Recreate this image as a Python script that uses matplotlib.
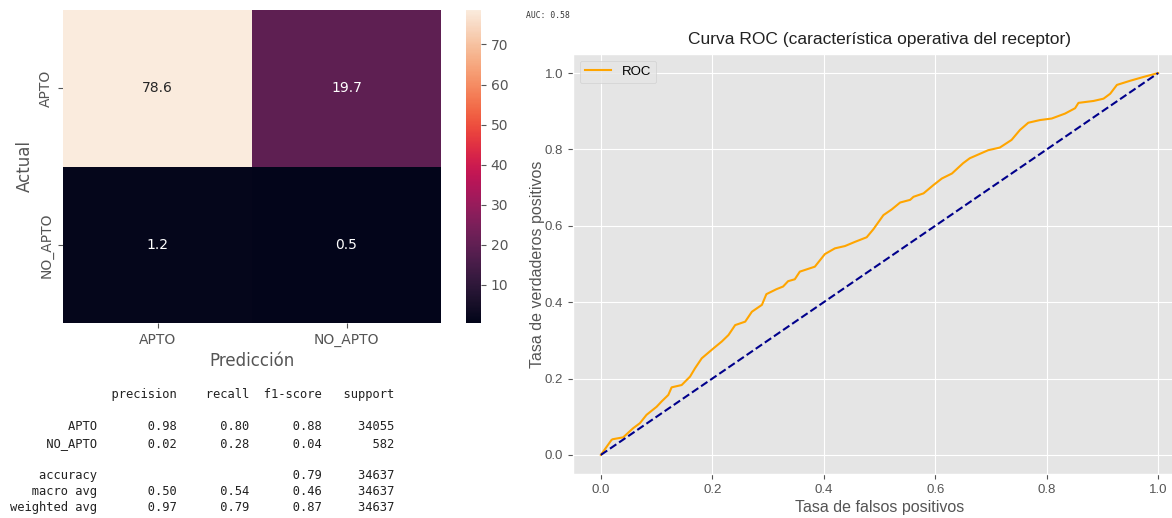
import numpy as np
import matplotlib
matplotlib.use('Agg')
import matplotlib.pyplot as plt
import seaborn as sns

# datos
clases = ['APTO', 'NO_APTO']
matriz = np.array([[78.6, 19.7],
                   [1.2, 0.5]])

precision = [0.98, 0.02]
recall = [0.80, 0.28]
f1 = [0.88, 0.04]
support = [34055, 582]
accuracy = 0.79
macro = [0.50, 0.54, 0.46]
weighted = [0.97, 0.79, 0.87]
total = 34637
auc = 0.58

fpr = [0.0, 0.019, 0.021, 0.040, 0.058, 0.070, 0.082, 0.100, 0.109, 0.121,
       0.127, 0.145, 0.160, 0.169, 0.181, 0.202, 0.217, 0.229, 0.241, 0.259,
       0.271, 0.289, 0.297, 0.315, 0.327, 0.336, 0.348, 0.357, 0.384, 0.402,
       0.420, 0.438, 0.456, 0.477, 0.489, 0.507, 0.522, 0.537, 0.555, 0.561,
       0.579, 0.597, 0.612, 0.630, 0.650, 0.662, 0.695, 0.716, 0.737, 0.752,
       0.767, 0.788, 0.809, 0.833, 0.851, 0.857, 0.884, 0.902, 0.914, 0.926,
       0.950, 0.974, 0.997, 1.0]
tpr = [0.0, 0.039, 0.041, 0.046, 0.070, 0.083, 0.105, 0.126, 0.140, 0.157,
       0.177, 0.183, 0.205, 0.227, 0.253, 0.279, 0.297, 0.314, 0.340, 0.349,
       0.375, 0.393, 0.421, 0.434, 0.441, 0.455, 0.460, 0.480, 0.493, 0.526,
       0.541, 0.547, 0.558, 0.570, 0.591, 0.628, 0.643, 0.661, 0.668, 0.676,
       0.685, 0.707, 0.724, 0.737, 0.764, 0.777, 0.798, 0.805, 0.825, 0.851,
       0.870, 0.877, 0.881, 0.894, 0.908, 0.922, 0.927, 0.933, 0.946, 0.969,
       0.980, 0.990, 0.999, 1.0]

plt.style.use('ggplot')
fuente_roc = 'Liberation Sans'

fig = plt.figure(figsize=(11.72, 5.18), dpi=100)

# matriz de confusion
ax1 = fig.add_axes([63/1172, 1 - 323/518, 378/1172, 313/518])
cax = fig.add_axes([466/1172, 1 - 323/518, 15/1172, 313/518])
sns.heatmap(matriz, annot=True, fmt='.1f', xticklabels=clases, yticklabels=clases,
            ax=ax1, cbar_ax=cax, annot_kws={'size': 10})
ax1.set_xlabel('Predicción', fontsize=12, color='#555555')
ax1.set_ylabel('Actual', fontsize=12, color='#555555')
ax1.tick_params(colors='#555555', labelsize=10)
cax.tick_params(colors='#555555', labelsize=10)

# reporte de clasificacion
w = 12
lineas = [' ' * w + ' ' + ''.join(' {:>9}'.format(h) for h in ['precision', 'recall', 'f1-score', 'support']), '']
for i, c in enumerate(clases):
    lineas.append('{:>{w}s} '.format(c, w=w) + ' {:>9.2f} {:>9.2f} {:>9.2f} {:>9}'.format(
        precision[i], recall[i], f1[i], support[i]))
lineas.append('')
lineas.append('{:>{w}s} '.format('accuracy', w=w) + ' {:>9} {:>9} {:>9.2f} {:>9}'.format('', '', accuracy, total))
lineas.append('{:>{w}s} '.format('macro avg', w=w) + ' {:>9.2f} {:>9.2f} {:>9.2f} {:>9}'.format(*macro, total))
lineas.append('{:>{w}s} '.format('weighted avg', w=w) + ' {:>9.2f} {:>9.2f} {:>9.2f} {:>9}'.format(*weighted, total))
fig.text(10/1172, 1 - 388/518, '\n'.join(lineas), family='DejaVu Sans Mono', fontsize=8.75,
         va='top', ha='left', color='#222222', linespacing=1.32)

# curva ROC
fig.text(526/1172, 1 - 16/518, 'AUC: %.2f' % auc, family='DejaVu Sans Mono', fontsize=5.8,
         va='center', ha='left', color='#333333')
ax2 = fig.add_axes([573/1172, 1 - 474/518, 613/1172, 420/518])
ax2.plot(fpr, tpr, color='orange', label='ROC')
ax2.plot([0, 1], [0, 1], color='darkblue', linestyle='--')
ax2.set_xlim(-0.05, 1.05)
ax2.set_ylim(-0.05, 1.05)
ax2.set_xticks([0, 0.2, 0.4, 0.6, 0.8, 1.0])
ax2.set_yticks([0, 0.2, 0.4, 0.6, 0.8, 1.0])
ax2.set_xlabel('Tasa de falsos positivos', family=fuente_roc, fontsize=11.5,
               color='#555555', labelpad=3)
ax2.set_ylabel('Tasa de verdaderos positivos', family=fuente_roc, fontsize=11.5,
               color='#555555', labelpad=0)
ax2.set_title('Curva ROC (característica operativa del receptor)', family=fuente_roc,
              fontsize=12.5, color='#222222', pad=7)
for t in ax2.get_xticklabels() + ax2.get_yticklabels():
    t.set_family(fuente_roc)
    t.set_fontsize(9.5)
leg = ax2.legend(loc='upper left', prop={'family': fuente_roc, 'size': 9.5})

fig.savefig('out.png', dpi=100)
